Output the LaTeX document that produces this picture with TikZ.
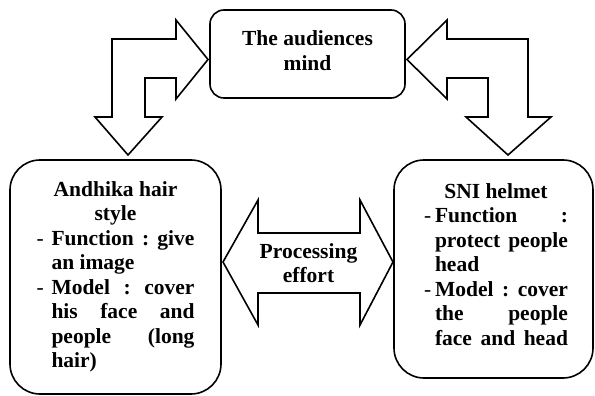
\documentclass[tikz,border=0pt]{standalone}
\usepackage{fontspec}
\setmainfont{Liberation Serif}
\newlength{\dind}
\newcommand{\cln}[1]{\hbox to \hsize{\hfil#1\hfil}}
\newcommand{\itm}[1]{\hbox to \hsize{\hbox to \dind{\mdseries-\hfil}#1}}
\newcommand{\cont}[1]{\hbox to \hsize{\hskip\dind#1}}
\tikzset{
  boxnode/.style={draw, line width=1.6pt, rectangle, inner sep=0pt,
    font=\rmfamily\bfseries\fontsize{21.5}{24.5}\selectfont},
  blockarrow/.style={draw, line width=1.6pt, fill=white, line join=miter},
}
\begin{document}
\begin{tikzpicture}[x=1pt,y=-1pt]
\useasboundingbox (0,0) rectangle (595,396);
% boxes
\node[boxnode, rounded corners=14pt, minimum width=195pt, minimum height=88pt]
  (mind) at (307.5,54) {\vbox{\hsize=180pt \cln{The audiences}\cln{mind}\kern7pt}};
\node[boxnode, rounded corners=30pt, minimum width=211pt, minimum height=234pt]
  (andhika) at (115.5,277) {\vbox{\hsize=158pt \setlength{\dind}{15pt}%
   \cln{Andhika hair}\cln{style}%
   \itm{Function\hfill:\hfill give}%
   \cont{an image\hfill}%
   \itm{Model\hfill:\hfill cover}%
   \cont{his\hfill face\hfill and}%
   \cont{people\hfill (long}%
   \cont{hair)\hfill}}};
\node[boxnode, rounded corners=30pt, minimum width=199pt, minimum height=218pt]
  (sni) at (493.5,269) {\hbox{\hskip5pt\vbox{\hsize=144pt \setlength{\dind}{11pt}%
   \cln{SNI helmet}%
   \itm{Function\hfill:}%
   \cont{protect\hfill people}%
   \cont{head\hfill}%
   \itm{Model\hfill:\hfill cover}%
   \cont{the\hfill people}%
   \cont{face\hfill and\hfill head}\kern9pt}}};
% left bent arrow (mind <-> Andhika)
\draw[blockarrow] (128,155) -- (162,117) -- (145,117) -- (145,78) -- (176,78) -- (176,99)
  -- (208,59.5) -- (176,20) -- (176,39) -- (112,39) -- (112,117) -- (95,117) -- cycle;
% right bent arrow (mind <-> SNI)
\draw[blockarrow] (508,155) -- (466,117) -- (488,117) -- (488,78) -- (447,78) -- (447,99)
  -- (407,59.5) -- (447,20) -- (447,39) -- (528,39) -- (528,117) -- (551,117) -- cycle;
% middle double arrow
\draw[blockarrow] (223,262) -- (258,200) -- (258,233) -- (360,233) -- (360,200) -- (393,262)
  -- (360,325) -- (360,293) -- (258,293) -- (258,325) -- cycle;
\node[font=\rmfamily\bfseries\fontsize{21.5}{24.5}\selectfont, inner sep=0pt]
  (effort) at (308.5,263) {\vbox{\hsize=120pt \cln{Processing}\cln{effort}}};
\end{tikzpicture}
\end{document}
